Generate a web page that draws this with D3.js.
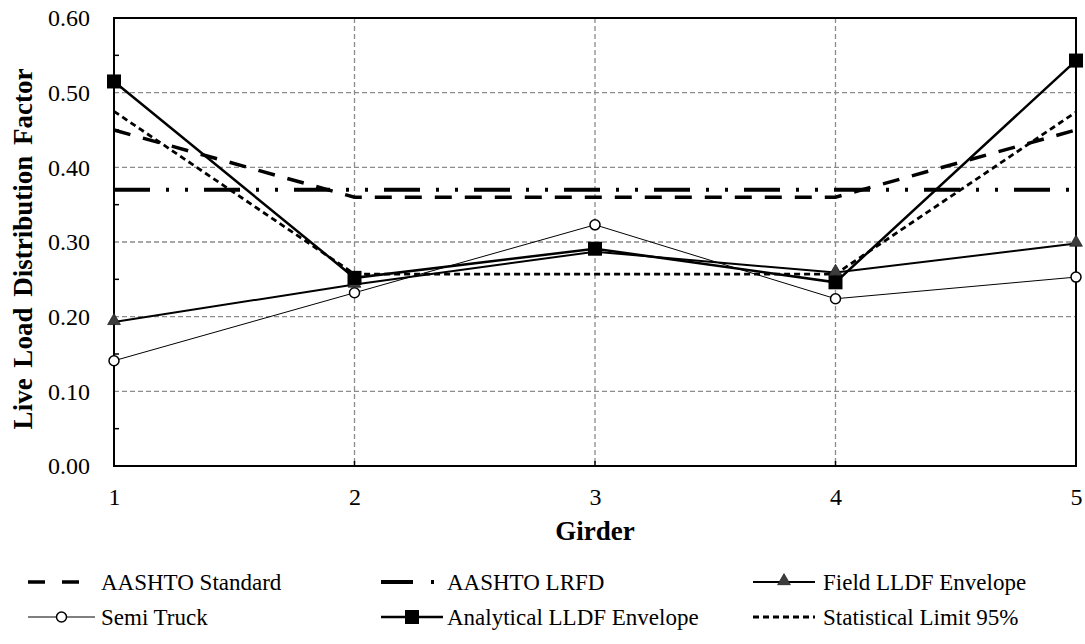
<!DOCTYPE html>
<html>
<head>
<meta charset="utf-8">
<script src="https://cdn.jsdelivr.net/npm/d3@7"></script>
<style>
  body { margin: 0; background: #fff; }
  text { font-family: "Liberation Serif", "Times New Roman", serif; fill: #000; }
</style>
</head>
<body>
<svg id="chart" width="1085" height="644"></svg>
<script>
// data
var girders = [1, 2, 3, 4, 5];
var yTicks = [0, 0.1, 0.2, 0.3, 0.4, 0.5, 0.6];
var aashtoStd = [0.45, 0.36, 0.36, 0.36, 0.45];
var aashtoLrfd = [0.37, 0.37, 0.37, 0.37, 0.37];
var fieldEnv = [0.193, 0.243, 0.287, 0.259, 0.298];
var semiTruck = [0.141, 0.232, 0.323, 0.224, 0.253];
var analytical = [0.515, 0.252, 0.291, 0.246, 0.543];
var statLimit = [0.475, 0.257, 0.257, 0.257, 0.474];

var svg = d3.select("#chart");
var pLeft = 114, pRight = 1076, pTop = 18, pBottom = 466;

var x = d3.scaleLinear().domain([1, 5]).range([pLeft, pRight]);
var y = d3.scaleLinear().domain([0, 0.6]).range([pBottom, pTop]);

// grid
svg.append("g").selectAll("line").data(yTicks.slice(1, 6)).enter().append("line")
  .attr("x1", pLeft).attr("x2", pRight)
  .attr("y1", function(d) { return y(d) }).attr("y2", function(d) { return y(d) })
  .style("stroke", "#8c8c8c").style("stroke-width", 1.3).style("stroke-dasharray", "5,3");
svg.append("g").selectAll("line").data([2, 3, 4]).enter().append("line")
  .attr("y1", pTop).attr("y2", pBottom)
  .attr("x1", function(d) { return x(d) }).attr("x2", function(d) { return x(d) })
  .style("stroke", "#8c8c8c").style("stroke-width", 1.3).style("stroke-dasharray", "5,3");

// axes
var yAxis = d3.axisLeft(y).tickValues(yTicks).tickFormat(d3.format(".2f")).tickSize(0).tickPadding(24);
var gy = svg.append("g").attr("transform", "translate(" + pLeft + ",0)").call(yAxis);
gy.select(".domain").remove();
gy.selectAll("text").style("font-size", "24px").style("font-family", "Liberation Serif");

// minor ticks inside
svg.append("g").selectAll("line").data(d3.range(0.05, 0.6, 0.1)).enter().append("line")
  .attr("x1", pLeft).attr("x2", pLeft + 5)
  .attr("y1", function(d) { return y(d) }).attr("y2", function(d) { return y(d) })
  .style("stroke", "#000").style("stroke-width", 1.5);
svg.append("g").selectAll("line").data([2, 3, 4]).enter().append("line")
  .attr("y1", pBottom).attr("y2", pBottom - 5)
  .attr("x1", function(d) { return x(d) }).attr("x2", function(d) { return x(d) })
  .style("stroke", "#000").style("stroke-width", 1.5);

var xAxis = d3.axisBottom(x).tickValues(girders).tickFormat(d3.format("d")).tickSize(0).tickPadding(22);
var gx = svg.append("g").attr("transform", "translate(0," + pBottom + ")").call(xAxis);
gx.select(".domain").remove();
gx.selectAll("text").style("font-size", "24px").style("font-family", "Liberation Serif");

// frame
svg.append("rect").attr("x", pLeft).attr("y", pTop).attr("width", pRight - pLeft).attr("height", pBottom - pTop)
  .style("fill", "none").style("stroke", "#000").style("stroke-width", 2);

// titles
svg.append("text").attr("x", (pLeft + pRight) / 2).attr("y", 540).attr("text-anchor", "middle")
  .style("font-size", "27px").style("font-weight", "bold").text("Girder");
svg.append("text").attr("transform", "translate(32,249) rotate(-90)")
  .attr("text-anchor", "middle").style("word-spacing", "4px")
  .style("font-size", "27px").style("font-weight", "bold").text("Live Load Distribution Factor");

var series = [
  {name: "AASHTO Standard", values: aashtoStd, width: 3.5, dash: "17,13", marker: null},
  {name: "AASHTO LRFD", values: aashtoLrfd, width: 4, dash: "36,16,3,16,3,16", marker: null},
  {name: "Field LLDF Envelope", values: fieldEnv, width: 2, dash: null, marker: "triangle"},
  {name: "Semi Truck", values: semiTruck, width: 1, dash: null, marker: "circle"},
  {name: "Analytical LLDF Envelope", values: analytical, width: 2.5, dash: null, marker: "square"},
  {name: "Statistical Limit 95%", values: statLimit, width: 2.8, dash: "6,4", marker: null}
];

var line = d3.line().x(function(d, i) { return x(girders[i]) }).y(function(d) { return y(d) });

function drawMarker(g, type, cx, cy) {
  if (type == "circle") {
    g.append("circle").attr("cx", cx).attr("cy", cy).attr("r", 5)
      .style("fill", "#fff").style("stroke", "#000").style("stroke-width", 1.5);
  } else if (type == "square") {
    g.append("rect").attr("x", cx - 7).attr("y", cy - 7).attr("width", 14).attr("height", 14)
      .style("fill", "#000");
  } else if (type == "triangle") {
    g.append("path").attr("d", d3.symbol().type(d3.symbolTriangle).size(70)())
      .attr("transform", "translate(" + cx + "," + (cy - 1) + ")")
      .style("fill", "#3c3c3c").style("stroke", "#222").style("stroke-width", 0.8);
  }
}

var drawOrder = [0, 1, 5, 3, 2, 4];
drawOrder.forEach(function(k) {
  var s = series[k];
  var g = svg.append("g");
  g.append("path").attr("d", line(s.values))
    .style("fill", "none").style("stroke", "#000").style("stroke-width", s.width)
    .style("stroke-dasharray", s.dash);
  if (s.marker) {
    s.values.forEach(function(v, i) { drawMarker(g, s.marker, x(girders[i]), y(v)); });
  }
});

// legend
var legendPos = [
  {x1: 28, x2: 80, tx: 101, ty: 582},
  {x1: 381, x2: 440, tx: 447, ty: 582},
  {x1: 753, x2: 815, tx: 823, ty: 582},
  {x1: 28, x2: 95, tx: 101, ty: 617},
  {x1: 381, x2: 443, tx: 447, ty: 617},
  {x1: 753, x2: 815, tx: 823, ty: 617}
];
var legendOrder = [0, 1, 2, 3, 4, 5];
legendOrder.forEach(function(k, i) {
  var s = series[k], p = legendPos[i];
  var g = svg.append("g");
  var dash = s.dash;
  if (k == 0) dash = "17,17";
  if (k == 1) dash = "32,18,3,50";
  g.append("line").attr("x1", p.x1).attr("x2", p.x2).attr("y1", p.ty).attr("y2", p.ty)
    .style("stroke", "#000").style("stroke-width", s.width).style("stroke-dasharray", dash);
  if (s.marker) drawMarker(g, s.marker, (p.x1 + p.x2) / 2, p.ty);
  g.append("text").attr("x", p.tx).attr("y", p.ty).attr("dy", "0.35em")
    .style("font-size", "23px").text(s.name);
});
</script>
</body>
</html>
